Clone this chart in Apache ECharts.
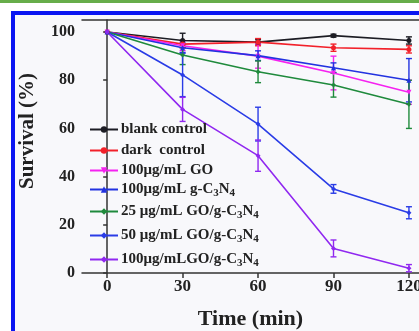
<!DOCTYPE html>
<html>
<head>
<meta charset="utf-8">
<script src="https://cdn.jsdelivr.net/npm/echarts@6/dist/echarts.min.js"></script>
<style>
  html, body { margin: 0; padding: 0; background: #fff; }
  #chart { width: 419px; height: 331px; }
</style>
</head>
<body>
<div id="chart"></div>
<script>
// survival vs time
const times = [0, 30, 60, 90, 120]
const xTicks = [0, 30, 60, 90, 120]
const yTicks = [0, 20, 40, 60, 80, 100]

const blank = [100, 96.5, 95.8, 98.5, 96.5]
const blankErr = [0, 3, 1, 0.6, 1.5]
const dark = [100, 95, 95.8, 93.5, 92.8]
const darkErr = [0, 1.5, 1.5, 1.5, 1.5]
const go = [100, 94.3, 90, 83, 75]
const goErr = [0, 2, 5, 7, 5]
const gcn = [100, 93.5, 90.2, 85.2, 80]
const gcnErr = [0, 2, 2, 2, 9]
const go25 = [100, 90.5, 83.5, 78, 70]
const go25Err = [0, 4, 4.5, 5, 10]
const go50 = [100, 82.2, 61.8, 34.9, 25]
const go50Err = [0, 9, 7, 1.8, 2.5]
const go100 = [100, 67.9, 48.7, 10.2, 2]
const go100Err = [0, 5, 6.5, 3.5, 1.5]

const names = [
  'blank control',
  'dark  control',
  '100μg/mL GO',
  '100μg/mL g-C{s|3}N{s|4}',
  '25 μg/mL GO/g-C{s|3}N{s|4}',
  '50 μg/mL GO/g-C{s|3}N{s|4}',
  '100μg/mLGO/g-C{s|3}N{s|4}'
]
const colors = ['#1c1c24', '#f2202a', '#f522f0', '#2232e0', '#1f8a3c', '#2a3ce6', '#9028f0']
const symbols = ['circle', 'circle', 'triangle', 'triangle', 'diamond', 'diamond', 'diamond']
const values = [blank, dark, go, gcn, go25, go50, go100]
const errors = [blankErr, darkErr, goErr, gcnErr, go25Err, go50Err, go100Err]
const legendY = [128, 149, 169, 188, 210, 234, 258]

const font = 'Liberation Serif, Times New Roman, serif'

const chart = echarts.init(document.getElementById('chart'))

const series = []
values.forEach((vals, i) => {
  series.push({
    name: names[i],
    type: 'line',
    data: times.map((t, j) => [t, vals[j]]),
    symbol: symbols[i],
    symbolRotate: i === 2 ? 180 : 0,
    symbolSize: 5,
    lineStyle: { color: colors[i], width: 1.6 },
    itemStyle: { color: colors[i] },
    z: 3
  })
  series.push({
    type: 'custom',
    data: times.map((t, j) => [t, vals[j], errors[i][j]]),
    renderItem: (params, api) => {
      const x = api.value(0)
      const y = api.value(1)
      const e = api.value(2)
      if (!e) return null
      const hi = api.coord([x, y + e])
      const lo = api.coord([x, y - e])
      const w = 3
      const style = { stroke: colors[i], lineWidth: 1.4 }
      return {
        type: 'group',
        children: [
          { type: 'line', shape: { x1: hi[0], y1: hi[1], x2: lo[0], y2: lo[1] }, style },
          { type: 'line', shape: { x1: hi[0] - w, y1: hi[1], x2: hi[0] + w, y2: hi[1] }, style },
          { type: 'line', shape: { x1: lo[0] - w, y1: lo[1], x2: lo[0] + w, y2: lo[1] }, style }
        ]
      }
    },
    z: 2,
    silent: true
  })
})

const legends = names.map((n, i) => ({
  data: [n],
  left: 84,
  top: legendY[i] - 11,
  orient: 'vertical',
  itemWidth: 28,
  itemHeight: 8,
  itemGap: 0,
  itemStyle: { borderWidth: 0 },
  textStyle: {
    fontFamily: font,
    fontWeight: 'bold',
    fontSize: 15,
    color: '#222',
    padding: [0, 0, 0, -2],
    rich: {
      s: { fontFamily: font, fontWeight: 'bold', fontSize: 11, color: '#222', padding: [7, 0, 0, 0] }
    }
  }
}))

chart.setOption({
  animation: false,
  backgroundColor: '#fff',
  graphic: [
    { type: 'rect', shape: { x: 0, y: 0, width: 419, height: 3 }, style: { fill: '#67ad4a' }, z: -10 },
    { type: 'rect', shape: { x: 15, y: 15, width: 404, height: 316 }, style: { fill: '#f8f8fb' }, z: -10 },
    { type: 'rect', shape: { x: 11, y: 11, width: 408, height: 4 }, style: { fill: '#0b16f2' }, z: -10 },
    { type: 'rect', shape: { x: 11, y: 11, width: 4, height: 320 }, style: { fill: '#0b16f2' }, z: -10 },
    {
      type: 'text',
      x: 28,
      y: 131,
      rotation: Math.PI / 2,
      style: {
        text: 'Survival (%)',
        fontFamily: font,
        fontWeight: 'bold',
        fontSize: 21,
        fill: '#222',
        align: 'center',
        verticalAlign: 'middle'
      }
    }
  ],
  grid: { left: 82, top: 20, right: 0, bottom: 58, outerBoundsMode: 'none' },
  legend: legends,
  xAxis: [
    {
      type: 'value',
      min: -10,
      max: 124,
      name: 'Time (min)',
      nameLocation: 'middle',
      nameGap: 35,
      nameTextStyle: { fontFamily: font, fontWeight: 'bold', fontSize: 22, color: '#222' },
      axisLine: { lineStyle: { color: '#333', width: 1.5 } },
      axisTick: { show: true, customValues: xTicks, length: 5, lineStyle: { color: '#333', width: 1.5 } },
      axisLabel: {
        customValues: xTicks,
        margin: 5,
        fontFamily: font,
        fontWeight: 'bold',
        fontSize: 17,
        color: '#222'
      },
      splitLine: { show: false }
    },
    {
      type: 'value',
      position: 'top',
      min: -10,
      max: 124,
      axisLine: { show: true, onZero: false, lineStyle: { color: '#333', width: 1.5 } },
      axisTick: { show: false },
      axisLabel: { show: false },
      splitLine: { show: false }
    }
  ],
  yAxis: {
    type: 'value',
    min: 0,
    max: 105,
    axisLine: { show: true, lineStyle: { color: '#333', width: 1.5 } },
    axisTick: { show: true, customValues: yTicks, length: 4, lineStyle: { color: '#333', width: 1.5 } },
    axisLabel: {
      customValues: yTicks,
      margin: 7,
      fontFamily: font,
      fontWeight: 'bold',
      fontSize: 16,
      color: '#222'
    },
    splitLine: { show: false }
  },
  series
})
</script>
</body>
</html>
